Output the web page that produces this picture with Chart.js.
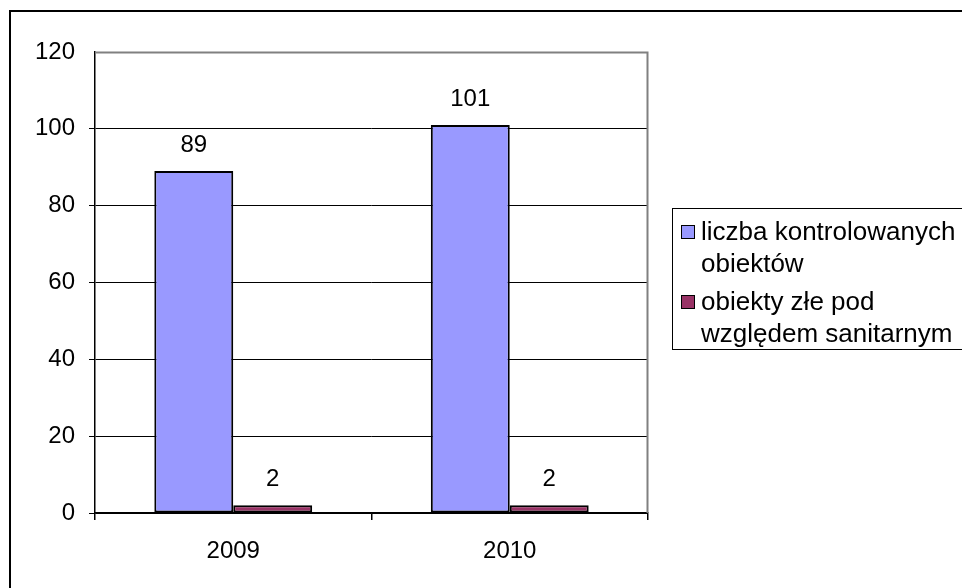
<!DOCTYPE html>
<html>
<head>
<meta charset="utf-8">
<script src="https://cdn.jsdelivr.net/npm/chart.js@4"></script>
<style>
  html, body { margin: 0; padding: 0; background: #fff; overflow: hidden; }
  #wrap { position: relative; width: 962px; height: 588px; }
  #frame { position: absolute; left: 9px; top: 10px; width: 1000px; height: 1000px; border: 2px solid #000; box-sizing: border-box; }
  #chart { position: absolute; left: 0; top: 0; }
  #legend { position: absolute; left: 672px; top: 208px; width: 320px; height: 142px; border: 1px solid #000; box-sizing: border-box;
            font-family: 'Liberation Sans', Arial, sans-serif; font-size: 26px; line-height: 32px; color: #000; padding: 6px 0 0 8px; }
  .item { display: flex; align-items: flex-start; margin-bottom: 6px; }
  .sw { width: 12px; height: 12px; border: 1px solid #000; margin: 10px 6px 0 0; flex: none; }
</style>
</head>
<body>
<div id="wrap">
  <div id="frame"></div>
  <canvas id="chart" width="962" height="588"></canvas>
  <div id="legend"></div>
</div>
<script>
// dane z wykresu
const lata = ['2009', '2010'];
const kontrolowane = [89, 101];
const zleSanitarnie = [2, 2];
const etykiety = ['liczba kontrolowanych obiektów', 'obiekty złe pod względem sanitarnym'];
const etykietyLinie = [['liczba kontrolowanych', 'obiektów'], ['obiekty złe pod', 'względem sanitarnym']];
const kolory = ['#9999FF', '#993366'];
const osY = { min: 0, max: 120, step: 20 };

const FONT = { family: "'Liberation Sans', Arial, sans-serif", size: 24 };

const valueLabels = {
  id: 'valueLabels',
  afterDatasetsDraw(chart) {
    const c = chart.ctx;
    c.save();
    c.font = `${FONT.size}px ${FONT.family}`;
    c.fillStyle = '#000';
    c.textAlign = 'center';
    c.textBaseline = 'alphabetic';
    chart.data.datasets.forEach((ds, i) => {
      chart.getDatasetMeta(i).data.forEach((bar, j) => {
        c.fillText(String(ds.data[j]), bar.x, bar.y - 19);
      });
    });
    c.restore();
  }
};

const plotBorder = {
  id: 'plotBorder',
  beforeDatasetsDraw(chart) {
    const a = chart.chartArea, c = chart.ctx;
    c.save();
    c.strokeStyle = '#808080';
    c.lineWidth = 2;
    c.beginPath();
    c.moveTo(a.left, a.top + 0.5);
    c.lineTo(a.right - 0.5, a.top + 0.5);
    c.lineTo(a.right - 0.5, a.bottom);
    c.stroke();
    c.restore();
  }
};

new Chart(document.getElementById('chart'), {
  type: 'bar',
  data: {
    labels: lata,
    datasets: [
      { label: etykiety[0], data: kontrolowane, backgroundColor: kolory[0], borderColor: '#000', borderWidth: 2, borderSkipped: false },
      { label: etykiety[1], data: zleSanitarnie, backgroundColor: kolory[1], borderColor: '#000', borderWidth: 2, borderSkipped: false }
    ]
  },
  options: {
    responsive: false, animation: false,
    categoryPercentage: 0.571, barPercentage: 1,
    layout: { padding: { left: 0, top: 52, right: 314, bottom: 0 } },
    plugins: { legend: { display: false }, tooltip: { enabled: false } },
    scales: {
      x: {
        afterFit: s => { s.height = 75; },
        grid: { offset: true, drawOnChartArea: false, tickLength: 7, color: '#000', lineWidth: 1.5 },
        border: { color: '#000', width: 1.5 },
        ticks: { color: '#000', font: FONT, padding: 17 }
      },
      y: {
        min: osY.min, max: osY.max,
        afterFit: s => { s.width = 95; },
        grid: { color: ctx => ctx.tick && ctx.tick.value === osY.max ? 'rgba(0,0,0,0)' : '#000', tickLength: 6, lineWidth: 1 },
        border: { color: '#000', width: 1.5 },
        ticks: { stepSize: osY.step, color: '#000', font: FONT, padding: 14 }
      }
    }
  },
  plugins: [plotBorder, valueLabels]
});

// legenda
const leg = document.getElementById('legend');
etykietyLinie.forEach((linie, i) => {
  const it = document.createElement('div');
  it.className = 'item';
  it.innerHTML = `<span class="sw" style="background:${kolory[i]}"></span><span>${linie.join('<br>')}</span>`;
  leg.appendChild(it);
});
</script>
</body>
</html>
